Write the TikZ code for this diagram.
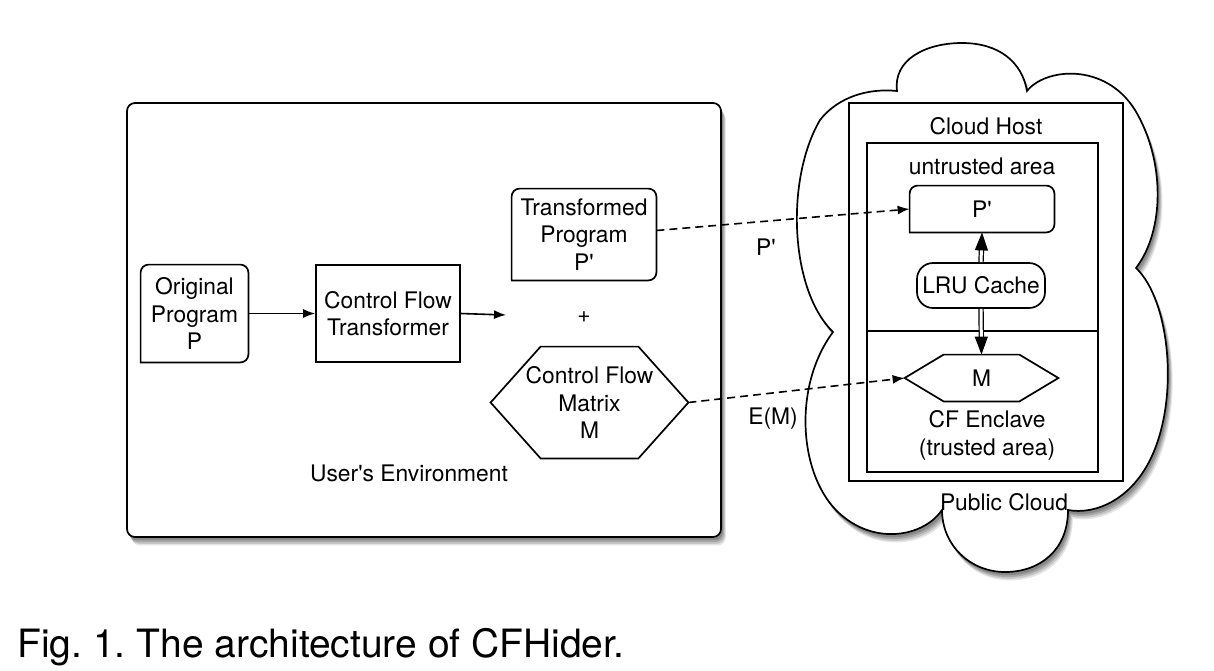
\documentclass[tikz,border=0pt]{standalone}
\usepackage{fontspec}
\setmainfont{TeX Gyre Heros}
\usetikzlibrary{arrows.meta,shadows,calc}
\newcommand\aq{\textquotesingle}
\frenchspacing
\begin{document}
\begin{tikzpicture}[x=0.5pt,y=-0.5pt,
  every node/.style={font=\fontsize{11.4pt}{13.75pt}\selectfont, inner sep=0pt, align=center},
  outline/.style={line width=0.85pt, draw=black},
  sqbox/.style={outline, fill=white},
  arr/.style={line width=0.8pt, -{Latex[length=6pt,width=4.5pt]}},
  dasharr/.style={arr, dash pattern=on 4pt off 2.5pt},
  dblarr/.style={line width=0.6pt, double, double distance=1.5pt, -{Triangle[length=9pt,width=6.5pt]}},
  shad/.style={
    drop shadow={shadow xshift=2.4pt,shadow yshift=-4.2pt,opacity=0.2},
    drop shadow={shadow xshift=1.9pt,shadow yshift=-3.4pt,opacity=0.3},
    drop shadow={shadow xshift=1.4pt,shadow yshift=-2.5pt,opacity=0.45},
    drop shadow={shadow xshift=0.9pt,shadow yshift=-1.6pt,opacity=0.75}}
]
\useasboundingbox (0,0) rectangle (1214,670);
\fill[white] (0,0) rectangle (1214,670);

% user's environment
\node[outline, fill=white, rounded corners=4pt, shad, minimum width=297pt, minimum height=217pt] (env) at (424,320) {};

\node[minimum width=53.5pt, minimum height=48.5pt] (op) at (194.5,313.5) {Original\\Program\\P};
\draw[outline, rounded corners=4pt] (op.south west) -- (op.north west) -- (op.north east) -- (op.south east) [sharp corners] -- cycle;

\node[sqbox, minimum width=72pt, minimum height=48.5pt] (cft) at (388,313.5) {Control Flow\\Transformer};

\node[minimum width=72pt, minimum height=45.5pt] (tp) at (584,234.5) {Transformed\\Program\\P\aq};
\draw[outline, rounded corners=4pt] (tp.south west) -- (tp.north west) -- (tp.north east) -- (tp.south east) [sharp corners] -- cycle;

\node (plus) at (584,317) {+};

\node[minimum width=98.5pt, minimum height=55.5pt] (cfm) at (589.5,402.5) {Control Flow\\Matrix\\M};
\draw[outline] (cfm.west) -- ($(cfm.north west)+(50,0)$) -- ($(cfm.north east)+(-50,0)$) -- (cfm.east) -- ($(cfm.south east)+(-50,0)$) -- ($(cfm.south west)+(50,0)$) -- cycle;

\node (envlbl) at (409,473) {User\aq s Environment};

\coordinate (cftout) at (506,315);
\draw[arr] (op.east) -- (cft.west);
\draw[arr] (cft.east) -- (cftout);

% cloud
\draw[outline, fill=white, shad]
 (897,91) .. controls (893,60) and (925,43) .. (962,43)
 .. controls (999,43) and (1022,62) .. (1027,91)
 .. controls (1045,68) and (1105,62) .. (1135,110)
 .. controls (1165,160) and (1165,230) .. (1136,268)
 .. controls (1170,300) and (1180,400) .. (1150,460)
 .. controls (1130,500) and (1095,515) .. (1068,510)
 .. controls (1068,550) and (1040,572) .. (1005,572)
 .. controls (970,572) and (942,545) .. (942,510)
 .. controls (925,535) and (880,545) .. (845,518)
 .. controls (800,485) and (790,390) .. (833,332)
 .. controls (790,290) and (785,180) .. (820,120)
 .. controls (838,97) and (868,88) .. (897,91) -- cycle;

\node[sqbox, minimum width=137pt, minimum height=189pt] (host) at (986,292) {};
\node[sqbox, minimum width=115.5pt, minimum height=94pt] (untr) at (982.5,237) {};
\node[sqbox, minimum width=115.5pt, minimum height=70.5pt] (encl) at (982.5,401.5) {};

\node (hostlbl) at (986,126) {Cloud Host};
\node (untrlbl) at (982,166) {untrusted area};

\node[minimum width=72pt, minimum height=23pt] (pp) at (982,209) {P\aq};
\draw[outline, rounded corners=4pt] (pp.south west) -- (pp.north west) -- (pp.north east) -- (pp.south east) [sharp corners] -- cycle;

\node[outline, rounded corners=8pt, minimum width=64pt, minimum height=22.5pt] (lru) at (981,285.5) {LRU Cache};

\node[minimum width=76.5pt, minimum height=23pt] (mh) at (981.5,378) {M};
\draw[outline] (mh.west) -- ($(mh.north west)+(39,0)$) -- ($(mh.north east)+(-39,0)$) -- (mh.east) -- ($(mh.south east)+(-39,0)$) -- ($(mh.south west)+(39,0)$) -- cycle;

\node (encllbl) at (987,435.5) {CF Enclave\\(trusted area)};
\node (publbl) at (1004,502) {Public Cloud};

\draw[dblarr] (lru.north) -- (pp.south);
\draw[dblarr] (lru.south) -- (mh.north);

\draw[dasharr] ([yshift=2pt]tp.east) -- (pp.west);
\draw[dasharr] (cfm.east) -- (mh.west);
\node (plbl) at (766,247) {P\aq};
\node (emlbl) at (773,419) {E(M)};

\node[anchor=base west, font=\fontsize{19.5pt}{23pt}\selectfont] (cap) at (17,657) {Fig. 1. The architecture of CFHider.};
\end{tikzpicture}
\end{document}
